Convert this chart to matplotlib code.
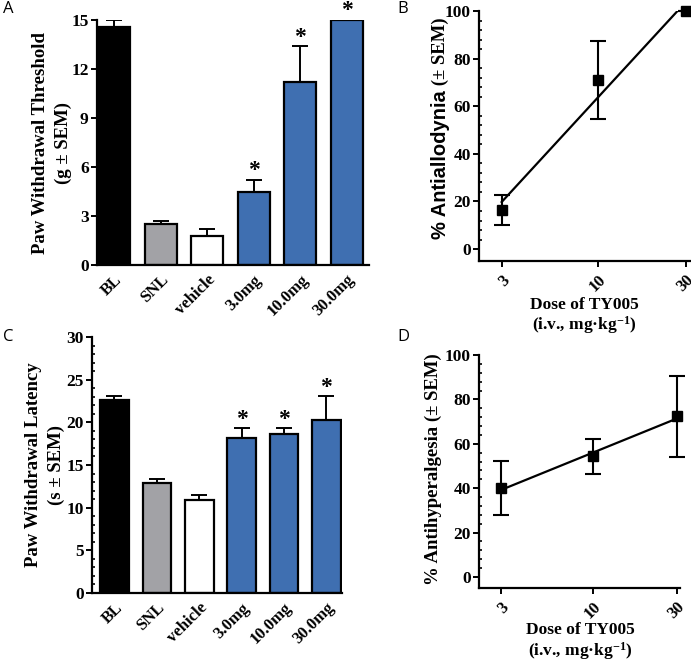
import numpy as np
import matplotlib
matplotlib.use("Agg")
import matplotlib.pyplot as plt
from matplotlib.ticker import AutoMinorLocator, FixedLocator, NullLocator, MultipleLocator

plt.rcParams['font.family'] = ['Liberation Serif', 'DejaVu Serif']
plt.rcParams['font.weight'] = 'bold'
plt.rcParams['mathtext.fontset'] = 'custom'
plt.rcParams['mathtext.rm'] = 'Liberation Serif:bold'
plt.rcParams['mathtext.it'] = 'Liberation Serif:bold'
plt.rcParams['mathtext.bf'] = 'Liberation Serif:bold'

# ---------------- data ----------------
groups = ["BL", "SNL", "vehicle", "3.0mg", "10.0mg", "30.0mg"]
bar_colors = ["#000000", "#a2a2a6", "#ffffff", "#3f6fb1", "#3f6fb1", "#3f6fb1"]

threshold_vals = [14.6, 2.5, 1.75, 4.45, 11.2, 15.0]
threshold_err = [0.4, 0.2, 0.47, 0.75, 2.2, 0.0]
threshold_sig = [False, False, False, True, True, True]

latency_vals = [22.6, 12.85, 10.85, 18.2, 18.6, 20.25]
latency_err = [0.5, 0.5, 0.65, 1.1, 0.7, 2.8]
latency_sig = [False, False, False, True, True, True]

doses = [3, 10, 30]
antiallodynia = [16.3, 71.0, 100.0]
antiallodynia_err = [6.3, 16.5, 0.0]
antihyperalgesia = [40.0, 54.3, 72.3]
antihyperalgesia_err = [12.2, 8.0, 18.2]

W, H = 691, 662
fig = plt.figure(figsize=(W / 100, H / 100), dpi=100)


def px_axes(left, top, right, bottom):
    return fig.add_axes([left / W, 1 - bottom / H, (right - left) / W, (bottom - top) / H])


def style_axes(ax):
    for s in ("top", "right"):
        ax.spines[s].set_visible(False)
    for s in ("left", "bottom"):
        ax.spines[s].set_linewidth(1.6)
    ax.tick_params(axis="y", which="major", direction="out", length=4, width=1.4,
                   labelsize=12.5, pad=2)
    ax.tick_params(axis="y", which="minor", direction="in", length=2.5, width=1.2)
    plt.setp(ax.get_yticklabels(), fontweight="bold")


def bar_panel(ax, vals, errs, sig, ylim, ystep, xlim, width, ylabel, labx):
    x = np.arange(len(vals))
    ax.bar(x, vals, width=width, color=bar_colors, edgecolor="black", linewidth=1.6, zorder=2)
    ax.errorbar(x, vals, yerr=[np.zeros(len(errs)), errs], fmt="none", ecolor="black",
                elinewidth=1.4, capsize=6, capthick=1.4, zorder=1)
    for xi, v, e, s in zip(x, vals, errs, sig):
        if s:
            ax.annotate("*", (xi, v + e), xytext=(0, -1), textcoords="offset points",
                        ha="center", va="bottom", fontsize=17, fontweight="bold",
                        annotation_clip=False)
    ax.set_xlim(*xlim)
    ax.set_ylim(*ylim)
    ax.yaxis.set_major_locator(MultipleLocator(ystep))
    ax.yaxis.set_minor_locator(AutoMinorLocator(5))
    ax.set_xticks(x)
    ax.set_xticklabels(groups, rotation=45, ha="right", va="top", rotation_mode="anchor",
                       fontsize=12, fontweight="bold")
    ax.tick_params(axis="x", length=0, pad=5)
    style_axes(ax)
    ax.set_ylabel(ylabel, fontsize=13.5, fontweight="bold", linespacing=1.4)
    ax.yaxis.set_label_coords(labx, 0.5)


def dose_panel(ax, vals, errs, xlim):
    d = np.array(doses, dtype=float)
    ax.set_xscale("log")
    lx = np.log10(d)
    slope, icpt = np.polyfit(lx, np.array(vals), 1)
    xx = np.array([d[0], d[-1]])
    ax.plot(xx, slope * np.log10(xx) + icpt, color="black", lw=1.6, zorder=2)
    ax.errorbar(d, vals, yerr=errs, fmt="s", color="black", ms=7.5, elinewidth=1.5,
                capsize=5.5, capthick=1.5, zorder=3, clip_on=False)
    ax.set_xlim(*xlim)
    ax.set_ylim(-5, 100)
    ax.yaxis.set_major_locator(FixedLocator([0, 20, 40, 60, 80, 100]))
    ax.yaxis.set_minor_locator(FixedLocator([v for v in range(0, 101, 4) if v % 20]))
    ax.xaxis.set_major_locator(FixedLocator(doses))
    ax.xaxis.set_minor_locator(NullLocator())
    ax.set_xticklabels([str(v) for v in doses], rotation=45, ha="right", va="top",
                       rotation_mode="anchor", fontsize=12, fontweight="bold")
    ax.tick_params(axis="x", which="major", direction="out", length=4, width=1.4, pad=4)
    style_axes(ax)
    return ax


# Panel A
axA = px_axes(97, 20, 369, 265)
bar_panel(axA, threshold_vals, threshold_err, threshold_sig, (0, 15), 3, (-0.37, 5.48), 0.69,
          "Paw Withdrawal Threshold\n(g \u00b1 SEM)", -0.092)

# Panel C
axC = px_axes(92, 337, 342, 593)
bar_panel(axC, latency_vals, latency_err, latency_sig, (0, 30), 5, (-0.53, 5.37), 0.675,
          "Paw Withdrawal Latency\n(s \u00b1 SEM)", -0.108)

# Panel B
axB = px_axes(479, 11, 691, 261)
dose_panel(axB, antiallodynia, antiallodynia_err, (2.26, 32))
t1 = axB.text(-0.182, 0.385, "% Antiallodynia", transform=axB.transAxes, rotation=90,
              ha="center", va="center", fontsize=14.5, fontweight="bold",
              family=["Liberation Sans", "DejaVu Sans"])
axB.annotate(" (\u00b1 SEM)", xy=(0.5, 1.0), xycoords=t1, rotation=90, ha="center", va="bottom",
             fontsize=13.5, fontweight="bold")
fig.text(584 / W, 1 - 305 / H, "Dose of TY005", ha="center", va="center", fontsize=12.5,
         fontweight="bold")
fig.text(584 / W, 1 - 325 / H, "(i.v., mg\u00b7kg$^{-1}$)", ha="center", va="center",
         fontsize=12.5, fontweight="bold")

# Panel D
axD = px_axes(479, 355, 680, 588)
dose_panel(axD, antihyperalgesia, antihyperalgesia_err, (2.25, 31.2))
axD.set_ylabel("% Antihyperalgesia (\u00b1 SEM)", fontsize=13.5, fontweight="bold")
axD.yaxis.set_label_coords(-0.184, 0.51)
fig.text(580 / W, 1 - 630 / H, "Dose of TY005", ha="center", va="center", fontsize=12.5,
         fontweight="bold")
fig.text(580 / W, 1 - 651 / H, "(i.v., mg\u00b7kg$^{-1}$)", ha="center", va="center",
         fontsize=12.5, fontweight="bold")

# Panel letters
for lx, ly, s in [(3, 9, "A"), (397, 9, "B"), (3, 337, "C"), (397, 337, "D")]:
    fig.text(lx / W, 1 - ly / H, s, ha="left", va="center", fontsize=12,
             family=["Open Sans", "DejaVu Sans"], fontweight="normal")

fig.savefig("out.png", dpi=100)
